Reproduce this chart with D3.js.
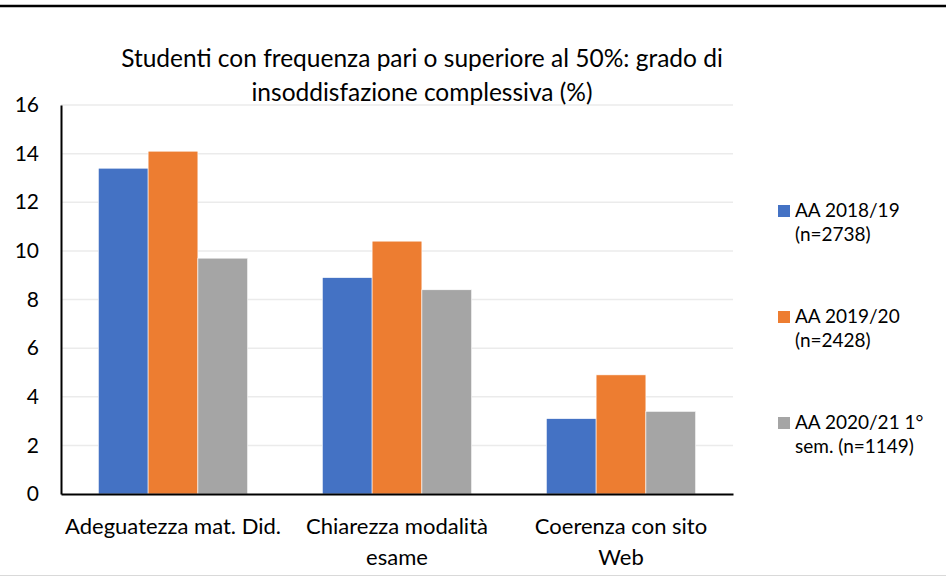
<!DOCTYPE html>
<html>
<head>
<meta charset="utf-8">
<script src="https://cdn.jsdelivr.net/npm/d3@7"></script>
<style>
  body { margin: 0; background: #fff; }
  text { font-family: Lato, "Open Sans", sans-serif; fill: #000; }
</style>
</head>
<body>
<div id="chart"></div>
<script>
// data
var categories = [["Adeguatezza mat. Did."], ["Chiarezza modalità", "esame"], ["Coerenza con sito", "Web"]];
var seriesNames = [["AA 2018/19", "(n=2738)"], ["AA 2019/20", "(n=2428)"], ["AA 2020/21 1°", "sem. (n=1149)"]];
var aa1819 = [13.4, 8.9, 3.1];
var aa1920 = [14.1, 10.4, 4.9];
var aa2021 = [9.7, 8.4, 3.4];
var yTicks = [0, 2, 4, 6, 8, 10, 12, 14, 16];
var colors = ["#4472C4", "#ED7D31", "#A5A5A5"];

var W = 946, H = 577;
var margin = { top: 105, right: 213, bottom: 83, left: 61 };
var width = W - margin.left - margin.right;
var height = H - margin.top - margin.bottom;

var svg = d3.select("#chart").append("svg")
  .attr("width", W)
  .attr("height", H);

// frame lines
svg.append("line").attr("x1", 0).attr("x2", W).attr("y1", 6).attr("y2", 6)
  .attr("stroke", "#000").attr("stroke-width", 2.5);
svg.append("line").attr("x1", 0).attr("x2", W).attr("y1", 575.5).attr("y2", 575.5)
  .attr("stroke", "#d9d9d9").attr("stroke-width", 1);

var g = svg.append("g")
  .attr("transform", "translate(" + margin.left + "," + margin.top + ")");

var series = [aa1819, aa1920, aa2021];

var x0 = d3.scaleBand()
  .domain(d3.range(categories.length))
  .range([0, width])
  .paddingInner(1 / 3)
  .paddingOuter(1 / 6);

var x1 = d3.scaleBand()
  .domain(d3.range(series.length))
  .range([0, x0.bandwidth()]);

var y = d3.scaleLinear().domain([0, 16]).range([height, 0]);

// gridlines
g.selectAll(".grid")
  .data(yTicks.filter(function (d) { return d > 0; }))
  .enter().append("line")
  .attr("x1", 0).attr("x2", width)
  .attr("y1", function (d) { return y(d); })
  .attr("y2", function (d) { return y(d); })
  .attr("stroke", "#ebebeb")
  .attr("stroke-width", 1.5);

// bars
var groups = g.selectAll(".grp")
  .data(categories)
  .enter().append("g")
  .attr("transform", function (d, i) { return "translate(" + x0(i) + ",0)"; });

groups.selectAll("rect")
  .data(function (d, i) { return series.map(function (s, j) { return { s: j, v: s[i] }; }); })
  .enter().append("rect")
  .attr("x", function (d) { return x1(d.s); })
  .attr("width", x1.bandwidth())
  .attr("y", function (d) { return y(d.v); })
  .attr("height", function (d) { return height - y(d.v); })
  .attr("fill", function (d) { return colors[d.s]; })
  .attr("stroke", "#fff")
  .attr("stroke-width", 0.6);

// y axis
var yAxis = g.append("g")
  .call(d3.axisLeft(y).tickValues(yTicks).tickSize(0).tickPadding(22));
yAxis.select(".domain").attr("stroke", "#000").attr("stroke-width", 2);
yAxis.selectAll("text").style("font-size", "21px").attr("fill", "#000");

// x axis
var xAxis = g.append("g")
  .attr("transform", "translate(0," + height + ")")
  .call(d3.axisBottom(x0).tickSize(0).tickFormat(""));
xAxis.select(".domain").attr("stroke", "#000").attr("stroke-width", 2);

xAxis.selectAll(".tick").each(function (d) {
  var t = d3.select(this).append("text")
    .attr("text-anchor", "middle")
    .style("font-size", "22px");
  categories[d].forEach(function (line, k) {
    t.append("tspan").attr("x", 0).attr("y", 40 + k * 31).text(line);
  });
});

// title
var title = svg.append("text")
  .attr("x", 422)
  .attr("text-anchor", "middle")
  .style("font-size", "24.5px");
title.append("tspan").attr("x", 422).attr("y", 67).text("Studenti con frequenza pari o superiore al 50%: grado di");
title.append("tspan").attr("x", 422).attr("y", 101).text("insoddisfazione complessiva (%)");

// legend
var legendY = [211, 317, 423];
var legend = svg.selectAll(".legend")
  .data(seriesNames)
  .enter().append("g")
  .attr("transform", function (d, i) { return "translate(778," + legendY[i] + ")"; });

legend.append("rect")
  .attr("x", 0).attr("y", -6)
  .attr("width", 12).attr("height", 12)
  .attr("fill", function (d, i) { return colors[i]; });

legend.append("text")
  .style("font-size", "19px")
  .each(function (d) {
    var t = d3.select(this);
    d.forEach(function (line, k) {
      t.append("tspan").attr("x", 17).attr("y", 6 + k * 24).text(line);
    });
  });
</script>
</body>
</html>
